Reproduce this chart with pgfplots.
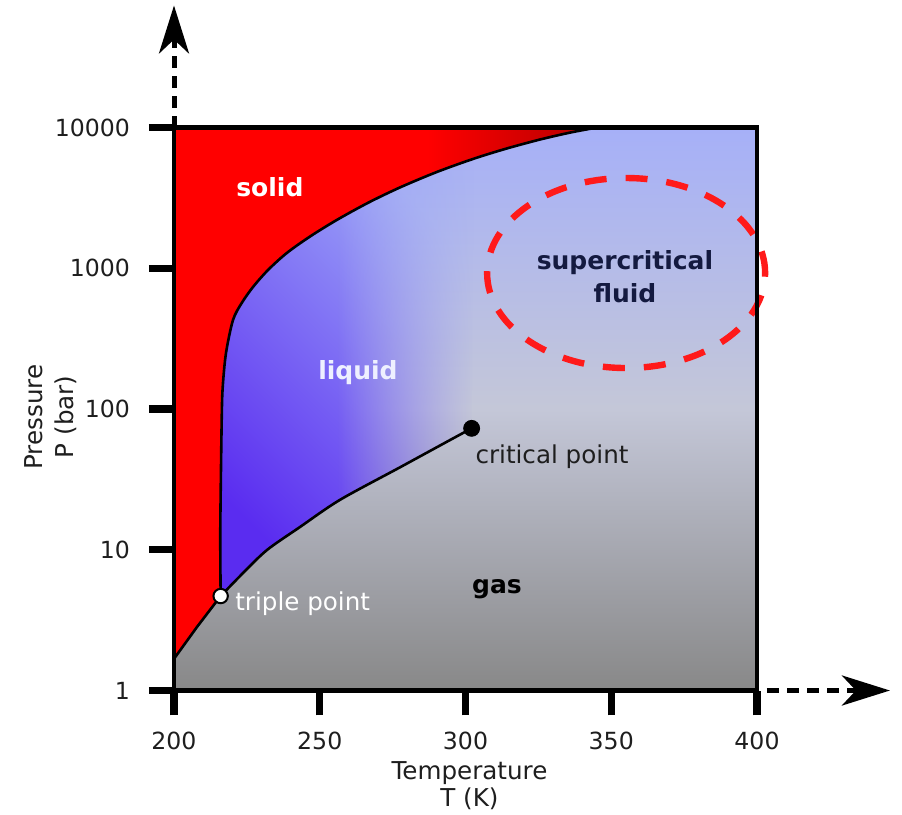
\documentclass[border=0pt]{standalone}
\usepackage{pgfplots}
\pgfplotsset{compat=1.18}
\usepackage{fontspec}
\setmainfont{DejaVu Sans}
\usetikzlibrary{arrows.meta,fadings}

\definecolor{scTop}{HTML}{A6B0F8}
\definecolor{scMid}{HTML}{C4C7D8}
\definecolor{gasBot}{HTML}{888888}
\definecolor{liqA}{HTML}{5A2CF0}
\definecolor{liqB}{HTML}{9EA8F8}
\definecolor{solDark}{HTML}{B40000}
\definecolor{txtDark}{HTML}{1E1E1E}
\definecolor{scText}{HTML}{141A40}
\definecolor{liqText}{HTML}{EEF0FF}
\definecolor{ellRed}{HTML}{FF1A1A}

\pgfdeclarehorizontalshading{solidsh}{100bp}{color(0bp)=(red); color(25bp)=(red); color(55bp)=(red); color(75bp)=(solDark); color(100bp)=(solDark)}
\pgfdeclarehorizontalshading{liqfadesh}{100bp}{color(0bp)=(white); color(48bp)=(white); color(75bp)=(black); color(100bp)=(black)}
\pgfdeclarefading{liqfade}{\pgfuseshading{liqfadesh}}

\newcommand{\lbl}{\fontsize{12.3}{15}\selectfont}
\newcommand{\blbl}{\bfseries\fontsize{12.5}{15}\selectfont}

\pgfplotstableread{
T P
216.0 4.69
215.9 8.5
215.9 16
216.36 83.5
216.71 143
217.84 250
220.24 429
223.22 566
227.1 736
232.25 972
238.68 1283
246.66 1681
255.82 2202
266.55 2917
277.53 3753
290.22 4835
302.92 6012
314.24 7104
325.56 8216
335.85 9199
345.11 10000
}\melting

\pgfplotstableread{
T P
216.0 4.69
223.7 6.84
231.9 9.96
243.2 14.5
256.9 22.6
277.5 38.5
294.7 60.2
302.1 72.9
}\vapour

\begin{document}
\begin{tikzpicture}
\begin{axis}[
  scale only axis, width=291.5pt, height=281.5pt,
  xmin=200, xmax=400, ymin=1, ymax=10000, ymode=log, log basis y=10,
  axis on top, clip=false,
  axis line style={line width=2.2pt, black},
  tick align=outside, tick pos=left,
  major tick length=12.5pt,
  major tick style={line width=3.6pt, black},
  yminorticks=false, xminorticks=false,
  xtick={200,250,300,350,400}, xticklabels={200,250,300,350,400},
  ytick={1,10,100,1000,10000}, yticklabels={1,10,100,1000,10000},
  ticklabel style={font=\fontsize{11.8}{14}\selectfont, text=txtDark},
  yticklabel style={xshift=-6pt},
  xticklabel style={yshift=-4.5pt},
]
% invisible frame giving the picture its size
\path (rel axis cs:-0.29846,-0.21936) rectangle (rel axis cs:1.24871,1.22647);

% background: supercritical (top) to gas (bottom)
\addplot[draw=none, top color=scTop, bottom color=gasBot, middle color=scMid]
  coordinates {(200,1) (400,1) (400,10000) (200,10000)};

% liquid region
\addplot[draw=none, bottom color=liqA, top color=liqB, shading angle=-45, path fading=liqfade]
  coordinates {(216.0,4.69) (215.9,8.5) (215.9,16) (216.36,83.5) (216.71,143) (217.84,250)
   (220.24,429) (223.22,566) (227.1,736) (232.25,972) (238.68,1283) (246.66,1681)
   (255.82,2202) (266.55,2917) (277.53,3753) (290.22,4835) (302.92,6012)
   (302.1,72.9) (294.7,60.2) (277.5,38.5) (256.9,22.6) (243.2,14.5) (231.9,9.96) (223.7,6.84) (216.0,4.69)};

% solid region
\addplot[draw=none, shade, shading=solidsh]
  coordinates {(200,1.68) (200,10000) (345.11,10000) (335.85,9199) (325.56,8216) (314.24,7104) (302.92,6012)
   (290.22,4835) (277.53,3753) (266.55,2917) (255.82,2202) (246.66,1681) (238.68,1283) (232.25,972)
   (227.1,736) (223.22,566) (220.24,429) (217.84,250) (216.71,143) (216.36,83.5) (215.9,16) (215.9,8.5)
   (216.0,4.69) (207.9,2.83) (200,1.68)};

% sublimation curve
\addplot[black, line width=1.3pt] coordinates {(200,1.68) (207.9,2.83) (216.0,4.69)};
% vapour pressure curve
\addplot[black, line width=1.3pt, smooth] table[x=T, y=P] {\vapour};
% melting curve
\addplot[black, line width=1.3pt, smooth] table[x=T, y=P] {\melting};

% points
\addplot[only marks, mark=*, mark size=4pt, black] coordinates {(302.1,72.9)};
\addplot[only marks, mark=*, mark size=3.6pt, draw=black, fill=white, line width=1pt] coordinates {(216.0,4.69)};

% region labels
\node[anchor=base, text=white, font=\blbl] at (axis cs:232.9,3260) {solid};
\node[anchor=base, text=liqText, font=\blbl] at (axis cs:263.1,161) {liquid};
\node[anchor=base, text=scText, font=\blbl] at (axis cs:354.7,972) {supercritical};
\node[anchor=base, text=scText, font=\blbl] at (axis cs:354.7,575) {fluid};
\node[anchor=base, text=black, font=\blbl] at (axis cs:310.8,4.85) {gas};
\node[anchor=base west, inner sep=0pt, text=txtDark, font=\lbl] at (axis cs:303.3,41.3) {critical point};
\node[anchor=base west, inner sep=0pt, text=white, font=\lbl] at (axis cs:220.9,3.73) {triple point};

% supercritical ellipse
\draw[ellRed, line width=3.2pt, dash pattern=on 11pt off 9.5pt] (axis cs:355.1,925) ellipse [x radius=69.5pt, y radius=47.5pt];

% dashed axis arrows
\draw[line width=2.5pt, dash pattern=on 6pt off 4pt, -{Stealth[length=24pt,width=15pt,inset=7pt]}]
  (rel axis cs:0,1) -- (rel axis cs:0,1.2167);
\draw[line width=2.5pt, dash pattern=on 6pt off 4pt, -{Stealth[length=24pt,width=15pt,inset=7pt]}]
  (rel axis cs:0.777,0) -- (rel axis cs:1.228,0);

% axis labels
\node[rotate=90, anchor=base, inner sep=0pt, text=txtDark, font=\lbl] at (rel axis cs:-0.2247,0.486) {Pressure};
\node[rotate=90, anchor=base, inner sep=0pt, text=txtDark, font=\lbl] at (rel axis cs:-0.1724,0.486) {P (bar)};
\node[anchor=base, inner sep=0pt, text=txtDark, font=\lbl] at (rel axis cs:0.5068,-0.1572) {Temperature};
\node[anchor=base, inner sep=0pt, text=txtDark, font=\lbl] at (rel axis cs:0.5068,-0.2069) {T (K)};
\end{axis}
\end{tikzpicture}
\end{document}
